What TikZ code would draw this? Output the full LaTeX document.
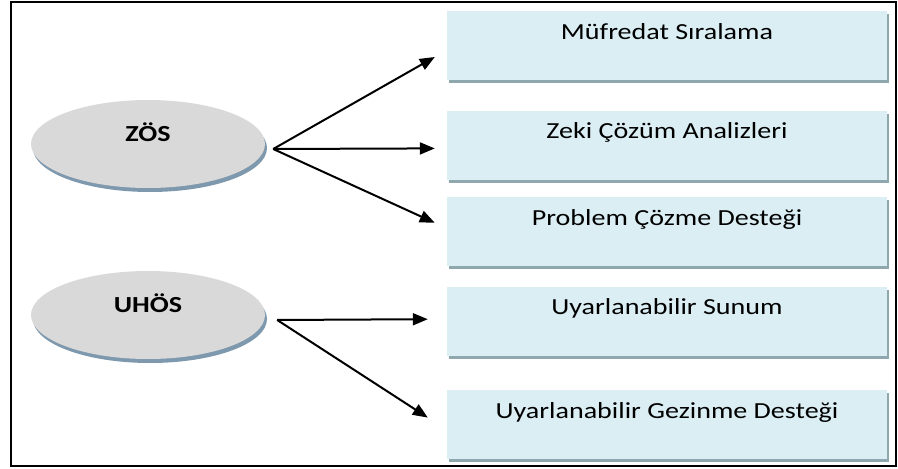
\documentclass[tikz,border=0pt]{standalone}
\usepackage{fontspec}
\setmainfont{Carlito}[FakeStretch=1.22]
\usetikzlibrary{positioning,arrows.meta,shapes.geometric,shadows}
\definecolor{boxblue}{HTML}{DAEEF3}
\definecolor{boxshade}{HTML}{8FA8AE}
\definecolor{ovalgray}{HTML}{D9D9D9}
\definecolor{ovalshade}{HTML}{7E98AE}

\begin{document}
\begin{tikzpicture}[x=1pt,y=1pt,
  box/.style={fill=boxblue,minimum width=440pt,minimum height=69pt,inner sep=6pt,
    text height=22pt,text depth=35pt,font=\fontsize{23}{27}\selectfont,
    general shadow={shadow xshift=2pt,shadow yshift=-3pt,fill=boxshade}},
  oval/.style={ellipse,fill=ovalgray,minimum width=234pt,minimum height=88pt,inner sep=0pt,
    text height=15pt,text depth=19pt,font=\fontsize{23}{27}\selectfont\bfseries,
    general shadow={shadow xshift=2pt,shadow yshift=-4pt,fill=ovalshade}},
  arr/.style={-{Triangle[length=15pt,width=12pt]},line width=2pt}]
\useasboundingbox (0,0) rectangle (898,469);
\draw[line width=2.4pt] (11,3) rectangle (896,467);

% the five modules on the right
\node[box] (mufredat) at (667,423) {Müfredat Sıralama};
\node[box,below=30pt of mufredat] (zeki) {Zeki Çözüm Analizleri};
\node[box,below=17pt of zeki] (problem) {Problem Çözme Desteği};
\node[box,below=20pt of problem] (sunum) {Uyarlanabilir Sunum};
\node[box,below=34pt of sunum] (gezinme) {Uyarlanabilir Gezinme Desteği};

% the two system types
\node[oval] (zos) at (148,325) {ZÖS};
\node[oval] (uhos) at (148,154) {UHÖS};

\coordinate (zfork) at ([xshift=8pt,yshift=-5pt]zos.east);
\coordinate (ufork) at ([xshift=12pt,yshift=-5pt]uhos.east);

\draw[arr] (zfork) -- ([xshift=-12pt,yshift=-11pt]mufredat.west);
\draw[arr] (zfork) -- ([xshift=-12pt,yshift=-3pt]zeki.west);
\draw[arr] (zfork) -- ([xshift=-12pt,yshift=9pt]problem.west);
\draw[arr] (ufork) -- ([xshift=-19pt,yshift=2pt]sunum.west);
\draw[arr] (ufork) -- ([xshift=-19pt,yshift=7pt]gezinme.west);
\end{tikzpicture}
\end{document}
